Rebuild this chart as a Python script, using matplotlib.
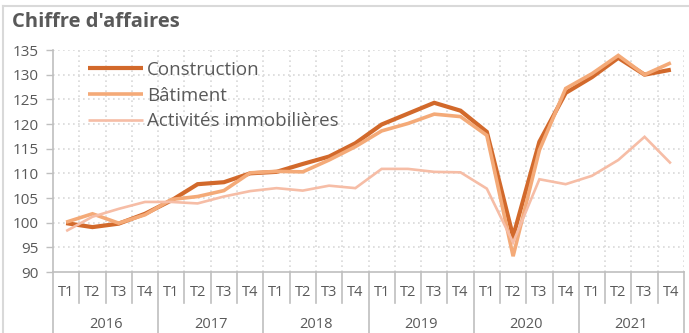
import matplotlib.pyplot as plt
import numpy as np
from matplotlib.lines import Line2D
from matplotlib.transforms import blended_transform_factory

plt.rcParams["font.family"] = ["Open Sans", "DejaVu Sans"]

TEXT = "#595959"
GRID = "#D9D9D9"
AXIS = "#BFBFBF"

years = ["2016", "2017", "2018", "2019", "2020", "2021"]
quarters = ["T1", "T2", "T3", "T4"]

construction = [99.9, 99.1, 99.8, 101.8, 104.5, 107.8, 108.2, 110.0,
                110.3, 111.9, 113.4, 116.1, 119.9, 122.1, 124.3, 122.7,
                118.4, 97.2, 116.4, 126.3, 129.5, 133.4, 130.0, 131.0]
batiment = [100.1, 101.8, 99.9, 101.6, 104.7, 105.3, 106.5, 110.1,
            110.4, 110.3, 112.7, 115.4, 118.6, 120.1, 122.0, 121.5,
            117.7, 93.2, 114.7, 127.2, 130.2, 133.9, 130.0, 132.4]
immobilier = [98.3, 101.2, 102.8, 104.2, 104.2, 103.9, 105.3, 106.4,
              107.0, 106.5, 107.5, 107.0, 110.9, 110.9, 110.3, 110.2,
              106.9, 96.0, 108.8, 107.8, 109.5, 112.7, 117.4, 112.0]

series = [
    ("Construction", construction, "#D2692B", 3.0),
    ("Bâtiment", batiment, "#F4AA78", 2.6),
    ("Activités immobilières", immobilier, "#F6BDA6", 1.9),
]

n = len(years) * len(quarters)
x = np.arange(n) + 0.5

fig = plt.figure(figsize=(6.89, 3.33), dpi=100)
ax = fig.add_axes([53 / 689, 1 - 272 / 333, 631 / 689, 222 / 333])

for label, vals, color, lw in series:
    ax.plot(x, vals, color=color, lw=lw, label=label, solid_joinstyle="miter",
            solid_capstyle="butt")

ax.set_xlim(0, n)
ax.set_ylim(90, 135)
ax.set_yticks(np.arange(90, 136, 5))
ax.set_xticks([])
ax.tick_params(axis="y", length=5, width=1, color=AXIS, labelsize=11,
               labelcolor=TEXT, pad=5)

# dotted grid, horizontal at y ticks and vertical at category boundaries
for yv in np.arange(95, 136, 5):
    ax.axhline(yv, color=GRID, lw=1.2, ls=(0, (1, 2)), zorder=0)
for k in range(1, n + 1):
    ax.axvline(k, color=GRID, lw=1.2, ls=(0, (1, 2)), zorder=0)

for s in ["top", "right"]:
    ax.spines[s].set_visible(False)
ax.spines["left"].set_color(AXIS)
ax.spines["bottom"].set_color(AXIS)
ax.spines["left"].set_linewidth(1.2)
ax.spines["bottom"].set_linewidth(1.2)

# two-level category axis below the plot
trans = blended_transform_factory(ax.transData, ax.transAxes)
h_px = 222
q_depth = -31 / h_px
y_depth = -70 / h_px
for k in range(n + 1):
    depth = y_depth if k % 4 == 0 else q_depth
    ax.add_line(Line2D([k, k], [0, depth], transform=trans, color=AXIS,
                       lw=1.2, clip_on=False))
for i in range(n):
    ax.text(i + 0.5, -21 / h_px, quarters[i % 4], transform=trans,
            ha="center", va="center", fontsize=10.5, color=TEXT)
for j, yr in enumerate(years):
    ax.text(4 * j + 2, -53 / h_px, yr, transform=trans, ha="center",
            va="center", fontsize=10.5, color=TEXT)

leg = ax.legend(loc="upper left", bbox_to_anchor=(0.044, 0.985), frameon=False,
                fontsize=13.5, handlelength=2.93, handletextpad=0.21,
                labelspacing=0.41, borderaxespad=0.0)
for t in leg.get_texts():
    t.set_color(TEXT)

fig.text(12 / 689, 1 - 22 / 333, "Chiffre d'affaires", fontsize=14.5,
         fontweight="bold", color=TEXT, ha="left", va="center")

# chart frame
fig.add_artist(Line2D([3 / 689, 3 / 689], [0, 1 - 6 / 333], color=GRID, lw=1.5))
fig.add_artist(Line2D([3 / 689, 1], [1 - 6 / 333, 1 - 6 / 333], color=GRID, lw=1.5))

fig.savefig("out.png", dpi=100)
